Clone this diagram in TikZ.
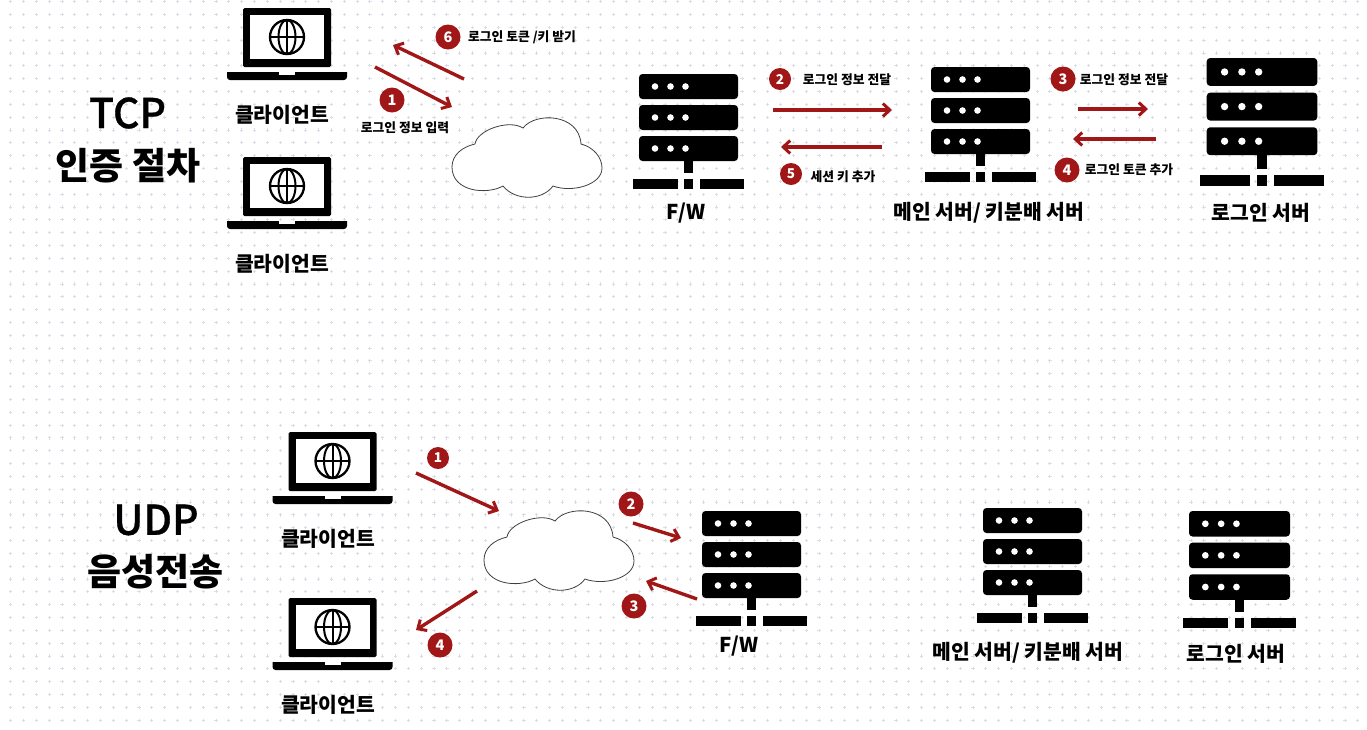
\documentclass[tikz,border=0pt]{standalone}
\usepackage{fontspec}
\setmainfont{Noto Sans CJK KR}
\newfontfamily\titlefont[FakeBold=0.7]{Noto Sans CJK KR Medium}
\usepackage{tikz}
\usetikzlibrary{arrows.meta}
\definecolor{flowred}{HTML}{A11616}
\definecolor{griddot}{HTML}{DCDCE6}

\tikzset{
  pics/laptop/.style={code={
    \fill[rounded corners=1.5pt] (-44,59) -- (-44,0) -- (44,0) -- (44,59) -- cycle;
    \fill[white] (-37,7) rectangle (37,51);
    \fill (-60,64) -- (60,64) -- (60,67) [rounded corners=3pt] -- (60,72) -- (-60,72) [sharp corners] -- (-60,67) -- cycle;
    \fill[white] (-8,64) rectangle (8,66.5);
    \draw[line width=2.3pt] (0,29) circle (17);
    \draw[line width=2pt] (0,29) ellipse (8.5 and 17);
    \draw[line width=2pt] (0,12) -- (0,46);
    \draw[line width=2pt] (-17,29) -- (17,29);
  }},
  pics/server/.style={code={
    \foreach \barY in {0,31,62} {
      \fill[rounded corners=3.5pt] (-49.5,\barY) rectangle (49.5,\barY+25);
      \foreach \dotX in {-33.5,-18,-3} {
        \fill[white] (\dotX,\barY+12.5) circle (3.3);
      }
    }
    \fill (-4.5,87) rectangle (4.5,99);
    \fill (-55.5,105) rectangle (-11,114.5);
    \fill (-4.5,105) rectangle (4.5,114.5);
    \fill (11,105) rectangle (55.5,114.5);
  }},
  pics/cloudshape/.style={code={
    \draw[fill=white, draw=black!75, line width=0.8pt]
      (-75,10) .. controls (-75,-2) and (-65,-10) .. (-52,-13)
      .. controls (-50,-27) and (-18,-38) .. (-4,-29)
      .. controls (8,-45) and (52,-44) .. (54,-13)
      .. controls (66,-10) and (75,0) .. (75,11)
      .. controls (75,28) and (45,36) .. (26,29)
      .. controls (15,44) and (-12,44) .. (-24,29)
      .. controls (-40,38) and (-75,35) .. (-75,10) -- cycle;
  }}
}

\begin{document}
\begin{tikzpicture}[
    x=1pt, y=-1pt,
    badge/.style={circle, fill=flowred, text=white, inner sep=0pt, minimum size=25pt,
      font=\fontsize{14.5}{14.5}\selectfont\bfseries},
    smallbadge/.style={badge, minimum size=22pt, font=\fontsize{13.5}{13.5}\selectfont\bfseries},
    biglabel/.style={font=\fontsize{20.4}{24}\selectfont\bfseries, inner sep=0pt},
    steplabel/.style={font=\fontsize{12.8}{15}\selectfont\bfseries, inner sep=0pt},
    titlelabel/.style={font=\fontsize{41}{48}\titlefont\selectfont, inner sep=0pt},
    titlebold/.style={font=\fontsize{37}{44}\selectfont\bfseries, inner sep=0pt},
    flow/.style={->, draw=flowred, line width=3.4pt},
    >={Straight Barb[length=7pt, width=13pt, line width=3pt]}
  ]
  \useasboundingbox (0,0) rectangle (1367,729);
  \fill[white] (0,0) rectangle (1367,729);

  % Dotted page grid
  \foreach \col in {0,...,106} {
    \foreach \row in {0,...,56} {
      \draw[griddot, line width=0.9pt]
        ({10.7+12.83*\col-1.6},{1.7+12.83*\row}) -- ++(3.2,0)
        ({10.7+12.83*\col},{1.7+12.83*\row-1.6}) -- ++(0,3.2);
    }
  }

  % TCP
  \node[titlelabel] (tcptitle) at (127.5,113) {TCP};
  \node[titlebold] (tcpsub) at (128,166) {인증 절차};

  \pic (tcplaptopa) at (287,8) {laptop};
  \pic (tcplaptopb) at (287,157) {laptop};
  \node[biglabel] (tcpclienta) at (282,115) {클라이언트};
  \node[biglabel] (tcpclientb) at (282,264) {클라이언트};

  \pic (tcpcloud) at (527,157) {cloudshape};

  \pic (tcpfw) at (688.5,74) {server};
  \pic (tcpmain) at (980.5,67) {server};
  \pic[scale=1.117] (tcplogin) at (1262,58) {server};
  \node[biglabel] (tcpfwlabel) at (686,213) {F/W};
  \node[biglabel] (tcpmainlabel) at (989,213) {메인 서버/ 키분배 서버};
  \node[biglabel] (tcploginlabel) at (1261,213) {로그인 서버};

  % TCP steps
  \node[badge] (tcpone) at (392,100) {1};
  \node[steplabel] (tcponetext) at (405,128) {로그인 정보 입력};
  \node[badge] (tcpsix) at (448,37) {6};
  \node[steplabel] (tcpsixtext) at (522,37) {로그인 토큰 /키 받기};
  \node[smallbadge] (tcptwo) at (780,79) {2};
  \node[steplabel] (tcptwotext) at (847,80) {로그인 정보 전달};
  \node[smallbadge] (tcpfive) at (791,174) {5};
  \node[steplabel] (tcpfivetext) at (843,177) {세션 키 추가};
  \node[badge] (tcpthree) at (1063,79) {3};
  \node[steplabel] (tcpthreetext) at (1124,80) {로그인 정보 전달};
  \node[badge] (tcpfour) at (1067,170) {4};
  \node[steplabel] (tcpfourtext) at (1129,170) {로그인 토큰 추가};

  % TCP arrows
  \coordinate (ta1) at (375,67);   \coordinate (tb1) at (452,107);
  \coordinate (ta6) at (464,79);   \coordinate (tb6) at (393,45);
  \coordinate (ta2) at (773,110);  \coordinate (tb2) at (892,110);
  \coordinate (ta5) at (882,147);  \coordinate (tb5) at (781,147);
  \coordinate (ta3) at (1078,109); \coordinate (tb3) at (1148,109);
  \coordinate (ta4) at (1156,139); \coordinate (tb4) at (1073,139);
  \draw[flow] (ta1) -- (tb1);
  \draw[flow] (ta6) -- (tb6);
  \draw[flow] (ta2) -- (tb2);
  \draw[flow] (ta5) -- (tb5);
  \draw[flow] (ta3) -- (tb3);
  \draw[flow] (ta4) -- (tb4);

  % UDP
  \node[titlelabel] (udptitle) at (156,520) {UDP};
  \node[titlebold] (udpsub) at (155.5,572) {음성전송};

  \pic (udplaptopa) at (332.5,432) {laptop};
  \pic (udplaptopb) at (332.5,598) {laptop};
  \node[biglabel] (udpclienta) at (328,539) {클라이언트};
  \node[biglabel] (udpclientb) at (328,705) {클라이언트};

  \pic (udpcloud) at (559,550) {cloudshape};

  \pic (udpfw) at (751.5,511) {server};
  \pic (udpmain) at (1032.5,508) {server};
  \pic[scale=1.02] (udplogin) at (1239.5,511) {server};
  \node[biglabel] (udpfwlabel) at (739,646) {F/W};
  \node[biglabel] (udpmainlabel) at (1028,653) {메인 서버/ 키분배 서버};
  \node[biglabel] (udploginlabel) at (1236,654) {로그인 서버};

  % UDP steps
  \node[smallbadge] (udpone) at (438,458) {1};
  \node[badge] (udptwo) at (631,504) {2};
  \node[badge] (udpthree) at (634,606) {3};
  \node[badge] (udpfour) at (440,645) {4};

  % UDP arrows
  \coordinate (ua1) at (416,473); \coordinate (ub1) at (499,511);
  \coordinate (ua2) at (633,523); \coordinate (ub2) at (681,538);
  \coordinate (ua3) at (697,599); \coordinate (ub3) at (646,581);
  \coordinate (ua4) at (477,591); \coordinate (ub4) at (416,630);
  \draw[flow] (ua1) -- (ub1);
  \draw[flow] (ua2) -- (ub2);
  \draw[flow] (ua3) -- (ub3);
  \draw[flow] (ua4) -- (ub4);
\end{tikzpicture}
\end{document}
